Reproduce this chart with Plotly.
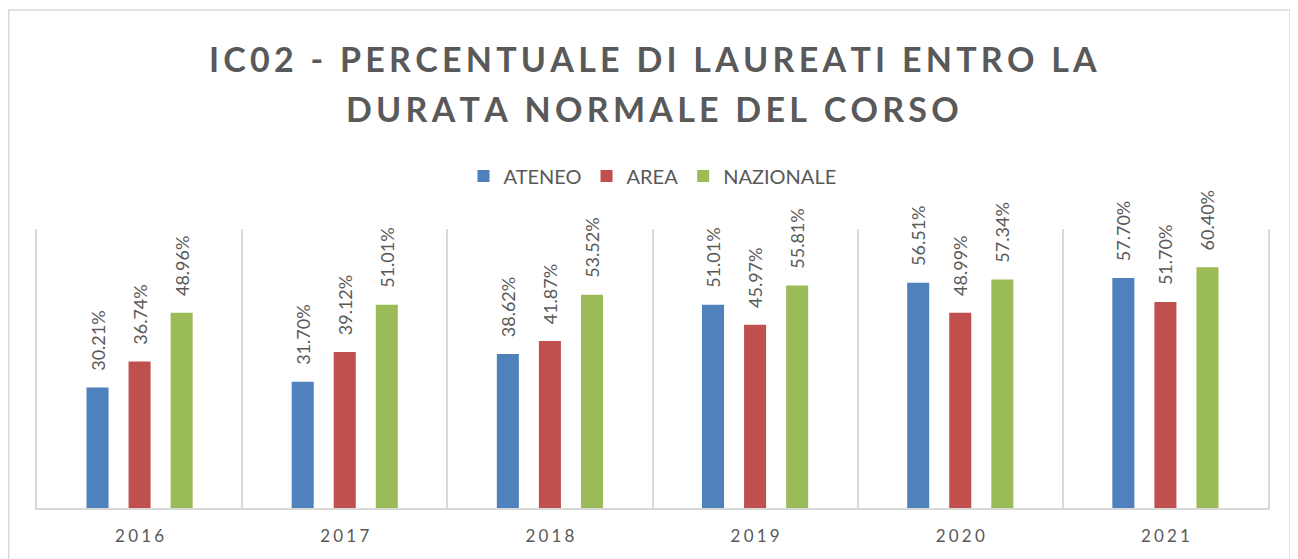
import plotly.graph_objects as go

years = ["2016", "2017", "2018", "2019", "2020", "2021"]
ateneo = [30.21, 31.70, 38.62, 51.01, 56.51, 57.70]
area = [36.74, 39.12, 41.87, 45.97, 48.99, 51.70]
nazionale = [48.96, 51.01, 53.52, 55.81, 57.34, 60.40]
title_lines = ["IC02 - PERCENTUALE DI LAUREATI ENTRO LA", "DURATA NORMALE DEL CORSO"]

series = [("ATENEO", ateneo, "#4F81BD"), ("AREA", area, "#C0504D"), ("NAZIONALE", nazionale, "#9BBB59")]

FONT = "Lato"
GRAY = "#595959"

# page body has an 8px margin; the figure is laid out in its own coordinates
W, H = 1290, 551
L, R, T, B = 29, 30, 221, 51
PW, PH = W - L - R, H - T - B

fig = go.Figure()
for name, vals, col in series:
    fig.add_trace(go.Bar(
        x=years, y=vals, name=name, marker=dict(color=col, line=dict(width=0)),
        text=["\u00a0\u00a0\u00a0%.2f%%" % v for v in vals],
        textposition="outside", textangle=-90, cliponaxis=False, constraintext="none",
        textfont=dict(family=FONT, size=18, color=GRAY),
        hoverinfo="skip",
    ))

def spaced(s, sep):
    return sep.join(list(s))

fig.update_layout(
    width=W, height=H,
    margin=dict(l=L, r=R, t=T, b=B),
    paper_bgcolor="white", plot_bgcolor="white",
    barmode="group", bargap=0.385, bargroupgap=0.476,
    legend=dict(orientation="h", x=0.5, xanchor="center", y=(500 - 168) / PH, yanchor="middle",
                font=dict(family=FONT, size=20, color=GRAY), itemwidth=30,
                traceorder="normal"),
    xaxis=dict(
        tickvals=years, ticktext=[spaced(y, "\u2009\u200a") for y in years],
        tickson="boundaries", ticklen=0, ticklabelstandoff=12,
        showgrid=True, gridcolor="#D9D9D9", gridwidth=1.5,
        showline=True, linecolor="#D9D9D9", linewidth=2,
        tickfont=dict(family=FONT, size=17, color=GRAY),
    ),
    yaxis=dict(range=[0, 70], showticklabels=False, ticks="", showgrid=False, zeroline=False,
               showline=True, mirror=True, linecolor="#D9D9D9", linewidth=1.5),
)

for line, ypix in zip(title_lines, [51.5, 102]):
    fig.add_annotation(
        text=spaced(line, "\u2009"), xref="paper", yref="paper",
        x=0.5, xanchor="center", y=(500 - ypix) / PH + 0.005, yanchor="middle",
        showarrow=False, font=dict(family=FONT, size=34, color=GRAY, weight="bold"),
    )

fig.add_shape(type="rect", xref="paper", yref="paper",
              x0=(0.75 - L) / PW, x1=(1282 - L) / PW,
              y0=(500 - 600) / PH, y1=(500 - 2) / PH,
              line=dict(color="#D9D9D9", width=1.5), fillcolor="rgba(0,0,0,0)", layer="below")

fig.write_html("out.html")
